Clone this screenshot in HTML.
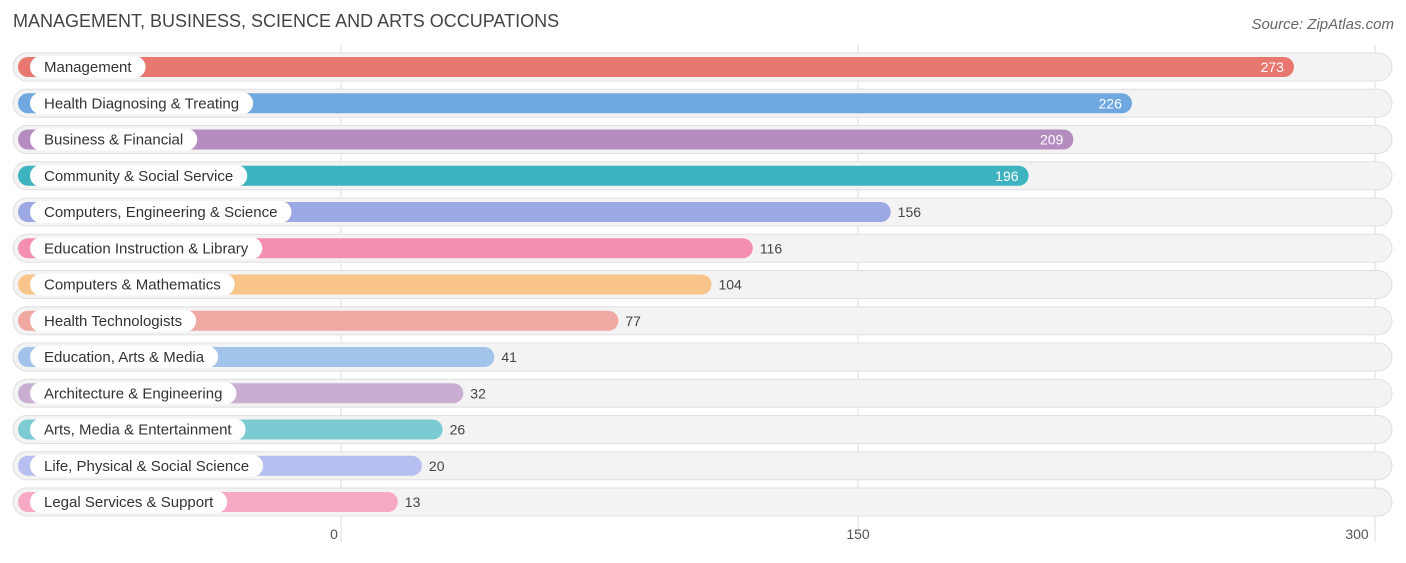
<!DOCTYPE html>
<html><head><meta charset="utf-8"><style>
body{margin:0;background:#fff;font-family:"Liberation Sans",sans-serif;}
</style></head><body>
<svg id="c" width="1406" height="558" xmlns="http://www.w3.org/2000/svg">
<text x="13" y="27" font-size="18" fill="#444">MANAGEMENT, BUSINESS, SCIENCE AND ARTS OCCUPATIONS</text>
<text x="1394" y="29" font-size="15" fill="#666" font-style="italic" text-anchor="end">Source: ZipAtlas.com</text>
<g id="grid"></g><g id="rows"></g><g id="ticks"></g>
</svg>
<script>
const categories=["Management","Health Diagnosing & Treating","Business & Financial","Community & Social Service","Computers, Engineering & Science","Education Instruction & Library","Computers & Mathematics","Health Technologists","Education, Arts & Media","Architecture & Engineering","Arts, Media & Entertainment","Life, Physical & Social Science","Legal Services & Support"];
const values=[273,226,209,196,156,116,104,77,41,32,26,20,13];
const colors=["#e8776f","#6fa8e0","#b48cc0","#3db3bf","#9ba8e3","#f48fb1","#f9c48a","#f0a8a3","#a3c4ea","#c9aed1","#7ccbd3","#b7bff0","#f6a8c4"];
const tickValues=[0,150,300];
const NS="http://www.w3.org/2000/svg";
const x=v=>341+v*(517/150);
const y=i=>67+i*36.25;
function mk(t,a,p){const e=document.createElementNS(NS,t);for(const k in a)e.setAttribute(k,a[k]);p.appendChild(e);return e;}
const grid=document.getElementById('grid'),rows=document.getElementById('rows'),ticks=document.getElementById('ticks');
tickValues.forEach(v=>{
 const l=mk('line',{x1:x(v),x2:x(v),y1:45,y2:542,stroke:'#ddd','stroke-width':1},grid);
 
 
 const t=mk('text',{x:x(v)-(v==0?7:v==300?18:0),y:539,'font-size':14,fill:'#555','text-anchor':'middle'},ticks);
 t.textContent=v;
 
 
});
categories.forEach((c,i)=>{
 const cy=y(i);
 const g=mk('g',{},rows);
 
 
 const bg=mk('rect',{x:13,y:cy-14,width:1379,height:28,rx:14,fill:'#f3f3f3',stroke:'#e0e0e0'},g);
 
 
 const bw=x(values[i])+12-18;
 const b=mk('rect',{x:18,y:cy-10,width:bw,height:20,rx:10,fill:colors[i]},g);
 
 
 const p=mk('rect',{x:30,y:cy-11,width:100,height:22,rx:11,fill:'#fff'},g);
 
 
 const lt=mk('text',{x:44,y:cy+5,'font-size':15,fill:'#333'},g);
 lt.textContent=c;
 
 
 p.setAttribute('width',lt.getComputedTextLength()+28);
 const inside=values[i]>180;
 const end=18+bw;
 const vt=mk('text',{x:inside?end-10:end+7,y:cy+5,'font-size':14,fill:inside?'#fff':'#444','text-anchor':inside?'end':'start'},g);
 vt.textContent=values[i];
 
 
});
</script>
</body></html>
